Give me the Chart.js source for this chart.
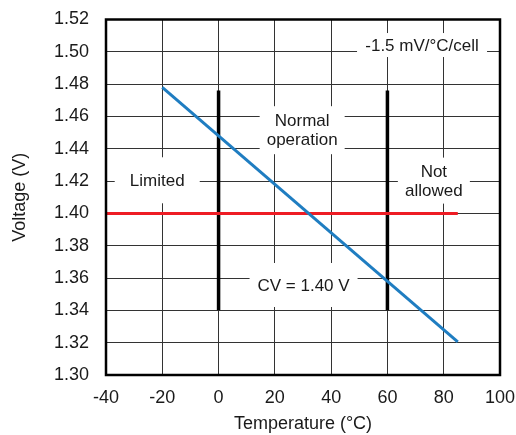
<!DOCTYPE html>
<html>
<head>
<meta charset="utf-8">
<script src="https://cdn.jsdelivr.net/npm/chart.js@4.4.1/dist/chart.umd.min.js"></script>
<style>
  body { margin: 0; background: #fff; }
  #wrap { width: 516px; height: 435px; }
</style>
</head>
<body>
<div id="wrap"><canvas id="chart"></canvas></div>
<script>
// data
const slopeX = [-20, 85];
const slopeY = [1.478, 1.3205];
const cvX = [-40, 85];
const cvY = [1.40, 1.40];
const limitLowX = [0, 0];
const limitHighX = [60, 60];
const limitY = [1.34, 1.476];

const xTicks = [-40, -20, 0, 20, 40, 60, 80, 100];

// text notes, placed in data units
const noteText = [['Limited'], ['Normal', 'operation'], ['Not', 'allowed'], ['-1.5 mV/°C/cell'], ['CV = 1.40 V']];
const noteX = [-21.8, 29.7, 76.5, 72.3, 30.2];
const noteY = [1.4205, 1.4515, 1.4203, 1.5042, 1.3557];
// white box behind each note (px)
const noteBox = [[85, 46], [85, 48], [72, 46], [130, 24], [108, 44]];

function pts(xs, ys) {
  return xs.map((x, i) => ({ x: x, y: ys[i] }));
}

const FONT = '"Liberation Sans", Arial, sans-serif';
const TXT = '#1a1a1a';

const noteLayer = {
  id: 'noteLayer',
  beforeDatasetsDraw(chart) {
    const ctx = chart.ctx;
    const xs = chart.scales.x, ys = chart.scales.y;
    ctx.save();
    ctx.font = '17px ' + FONT;
    ctx.textAlign = 'center';
    ctx.textBaseline = 'middle';
    noteText.forEach((lines, k) => {
      const px = xs.getPixelForValue(noteX[k]);
      const py = ys.getPixelForValue(noteY[k]);
      const [w, h] = noteBox[k];
      const lh = 19;
      ctx.fillStyle = '#fff';
      ctx.fillRect(px - w / 2, py - h / 2, w, h);
      ctx.fillStyle = TXT;
      lines.forEach((l, i) => {
        ctx.fillText(l, px, py + 1 + (i - (lines.length - 1) / 2) * lh);
      });
    });
    ctx.restore();
  },
  afterDraw(chart) {
    // frame round the plot area
    const a = chart.chartArea;
    const ctx = chart.ctx;
    ctx.save();
    ctx.strokeStyle = '#000';
    ctx.lineWidth = 2.5;
    ctx.strokeRect(a.left, a.top, a.right - a.left, a.bottom - a.top);
    ctx.restore();
  }
};

new Chart(document.getElementById('chart'), {
  type: 'scatter',
  data: {
    datasets: [
      { data: pts(slopeX, slopeY), showLine: true, borderColor: '#1f7dc1', borderWidth: 3, pointRadius: 0 },
      { data: pts(cvX, cvY), showLine: true, borderColor: '#ee1c24', borderWidth: 3, pointRadius: 0 },
      { data: pts(limitLowX, limitY), showLine: true, borderColor: '#000', borderWidth: 3.5, pointRadius: 0 },
      { data: pts(limitHighX, limitY), showLine: true, borderColor: '#000', borderWidth: 3.5, pointRadius: 0 }
    ]
  },
  options: {
    responsive: true,
    maintainAspectRatio: false,
    animation: false,
    layout: { padding: { left: 0, right: 16, top: 19.5, bottom: 0 } },
    plugins: {
      legend: { display: false },
      tooltip: { enabled: false }
    },
    scales: {
      x: {
        type: 'linear',
        min: -40,
        max: 100,
        afterBuildTicks: (s) => { s.ticks = xTicks.map(v => ({ value: v })); },
        afterFit: (s) => { s.height = 60; s.paddingLeft = 0; s.paddingRight = 0; },
        grid: { color: '#333', lineWidth: 1, drawTicks: false },
        border: { display: false },
        ticks: { color: TXT, font: { family: FONT, size: 18 }, padding: 12, maxRotation: 0 },
        title: { display: true, text: 'Temperature (°C)', color: TXT, font: { family: FONT, size: 18 }, padding: { top: -5, bottom: 0 } }
      },
      y: {
        min: 1.30,
        max: 1.52,
        afterFit: (s) => { s.width = 106; s.paddingTop = 0; s.paddingBottom = 0; },
        grid: { color: '#333', lineWidth: 1, drawTicks: false },
        border: { display: false },
        ticks: { stepSize: 0.02, color: TXT, font: { family: FONT, size: 18 }, padding: 17, callback: v => v.toFixed(2) },
        title: { display: true, text: 'Voltage (V)', color: TXT, font: { family: FONT, size: 18 }, padding: { top: 9, bottom: 0 } }
      }
    }
  },
  plugins: [noteLayer]
});
</script>
</body>
</html>
